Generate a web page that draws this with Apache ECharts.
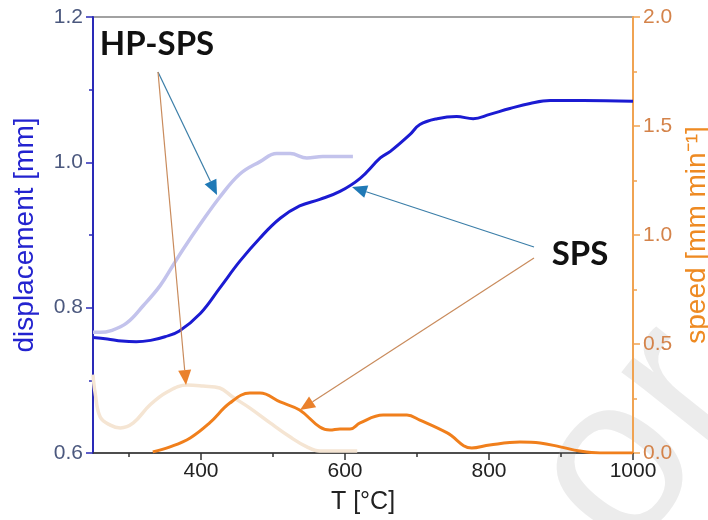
<!DOCTYPE html>
<html>
<head>
<meta charset="utf-8">
<script src="https://cdn.jsdelivr.net/npm/echarts@6/dist/echarts.min.js"></script>
<style>
  html, body { margin: 0; padding: 0; background: #fff; }
  #chart { width: 708px; height: 520px; }
</style>
</head>
<body>
<div id="chart"></div>
<script>
// SPS displacement (blue, solid)
const spsDispT = [250, 270, 290, 310, 330, 350, 370, 399, 426, 454, 482, 510, 537, 565, 593, 621, 649, 663, 690, 704, 728, 755, 778, 801, 829, 857, 885, 931, 1000];
const spsDispV = [0.759, 0.757, 0.754, 0.753, 0.755, 0.760, 0.768, 0.792, 0.827, 0.864, 0.896, 0.923, 0.940, 0.949, 0.960, 0.978, 1.006, 1.015, 1.038, 1.052, 1.060, 1.063, 1.060, 1.066, 1.074, 1.081, 1.085, 1.085, 1.084];

// HP-SPS displacement (light lavender)
const hpDispT = [250, 260, 274, 297, 320, 343, 361, 375, 399, 426, 454, 482, 505, 524, 547, 569, 611];
const hpDispV = [0.766, 0.766, 0.768, 0.779, 0.803, 0.830, 0.858, 0.880, 0.915, 0.952, 0.984, 1.001, 1.012, 1.012, 1.006, 1.008, 1.008];

// SPS speed (orange)
const spsSpeedT = [333, 357, 385, 412, 440, 468, 482, 510, 537, 565, 579, 593, 607, 621, 653, 686, 704, 742, 776, 801, 843, 871, 899, 926, 954, 1000];
const spsSpeedV = [0.005, 0.028, 0.069, 0.138, 0.229, 0.275, 0.275, 0.234, 0.197, 0.119, 0.105, 0.110, 0.110, 0.138, 0.174, 0.174, 0.151, 0.092, 0.023, 0.037, 0.050, 0.046, 0.028, 0.009, 0.0, 0.0];

// HP-SPS speed (light peach)
const hpSpeedT = [250, 253, 260, 274, 288, 306, 329, 353, 381, 403, 426, 444, 468, 496, 524, 547, 565, 589, 617];
const hpSpeedV = [0.36, 0.275, 0.165, 0.128, 0.115, 0.138, 0.22, 0.28, 0.312, 0.307, 0.298, 0.257, 0.206, 0.138, 0.073, 0.028, 0.009, 0.009, 0.009];

const xMajor = [400, 600, 800, 1000];
const xMinor = [300, 500, 700, 900];

function zip(a, b) {
  return a.map((t, i) => [t, b[i]]);
}

// arrow = line + filled head
function arrow(x1, y1, x2, y2, lineColor, headColor) {
  const ang = Math.atan2(y2 - y1, x2 - x1);
  const len = 15, half = 6.5;
  const bx = x2 - len * Math.cos(ang), by = y2 - len * Math.sin(ang);
  const px = -Math.sin(ang) * half, py = Math.cos(ang) * half;
  return [
    { type: 'line', shape: { x1: x1, y1: y1, x2: bx, y2: by }, style: { stroke: lineColor, lineWidth: 1.2 }, z: 10 },
    { type: 'polygon', shape: { points: [[x2, y2], [bx + px, by + py], [bx - px, by - py]] }, style: { fill: headColor }, z: 10 }
  ];
}

const blueLine = '#3b7ea8', blueHead = '#1f79b6';
const orLine = '#c98b5c', orHead = '#ea812c';

const chart = echarts.init(document.getElementById('chart'));

const option = {
  backgroundColor: '#fff',
  animation: false,
  grid: {
    left: 93, right: 75, top: 17, bottom: 67,
    outerBoundsMode: 'none',
    show: true, borderColor: '#444', borderWidth: 1.2
  },
  xAxis: [
    {
      type: 'value', min: 250, max: 1000,
      name: 'T [°C]', nameLocation: 'middle', nameGap: 37,
      nameTextStyle: { fontFamily: 'Liberation Sans', fontSize: 25, color: '#222' },
      axisLine: { lineStyle: { color: '#333', width: 1.5 } },
      axisTick: { customValues: xMajor, length: 7, lineStyle: { color: '#333', width: 1.5 } },
      axisLabel: { customValues: xMajor, fontFamily: 'Liberation Sans', fontSize: 21, color: '#222', margin: 8,
        formatter: v => String(v) },
      splitLine: { show: false }
    },
    {
      type: 'value', min: 250, max: 1000, position: 'bottom',
      axisLine: { show: false },
      axisTick: { customValues: xMinor, length: 4, lineStyle: { color: '#333', width: 1.5 } },
      axisLabel: { show: false },
      splitLine: { show: false }
    }
  ],
  yAxis: [
    {
      type: 'value', min: 0.6, max: 1.2, interval: 0.2,
      name: 'displacement [mm]', nameLocation: 'middle', nameGap: 54, nameRotate: 90,
      nameTextStyle: { fontFamily: 'Liberation Sans', fontSize: 28, color: '#2323cf' },
      axisLine: { show: true, lineStyle: { color: '#2a2ab8', width: 2 } },
      axisTick: { show: true, length: 7, lineStyle: { color: '#2a2ab8', width: 1.5 } },
      minorTick: { show: true, splitNumber: 2, length: 4, lineStyle: { color: '#2a2ab8', width: 1.5 } },
      axisLabel: { fontFamily: 'Liberation Sans', fontSize: 21, color: '#4b587e', margin: 10,
        formatter: v => v.toFixed(1) },
      splitLine: { show: false }
    },
    {
      type: 'value', min: 0, max: 2, interval: 0.5, position: 'right',
      name: 'speed [mm min⁻¹]', nameLocation: 'middle', nameGap: 50, nameRotate: 90,
      nameTextStyle: { fontFamily: 'Liberation Sans', fontSize: 28, color: '#ee8a22' },
      axisLine: { show: true, lineStyle: { color: '#f0a352', width: 2 } },
      axisTick: { show: true, length: 7, lineStyle: { color: '#f0a352', width: 1.5 } },
      minorTick: { show: true, splitNumber: 2, length: 4, lineStyle: { color: '#f0a352', width: 1.5 } },
      axisLabel: { fontFamily: 'Liberation Sans', fontSize: 21, color: '#d4834a', margin: 10,
        formatter: v => v.toFixed(1) },
      splitLine: { show: false }
    }
  ],
  series: [
    {
      name: 'HP-SPS speed', type: 'line', yAxisIndex: 1, smooth: 0.4, showSymbol: false,
      data: zip(hpSpeedT, hpSpeedV),
      lineStyle: { color: '#f5e5d3', width: 3.5 }, z: 2
    },
    {
      name: 'HP-SPS displacement', type: 'line', yAxisIndex: 0, smooth: 0.4, showSymbol: false,
      data: zip(hpDispT, hpDispV),
      lineStyle: { color: '#c3c3ec', width: 3.5 }, z: 2
    },
    {
      name: 'SPS speed', type: 'line', yAxisIndex: 1, smooth: 0.4, showSymbol: false,
      data: zip(spsSpeedT, spsSpeedV),
      lineStyle: { color: '#f07f1c', width: 3 }, z: 3
    },
    {
      name: 'SPS displacement', type: 'line', yAxisIndex: 0, smooth: 0.4, showSymbol: false,
      data: zip(spsDispT, spsDispV),
      lineStyle: { color: '#1b1bd2', width: 3 }, z: 3
    }
  ],
  graphic: [
    {
      type: 'text', x: 668, y: 592, rotation: 0.9, z: 0, silent: true,
      style: { text: 'or', fontFamily: 'Liberation Sans', fontSize: 230, fill: '#ececec', textVerticalAlign: 'bottom' }
    },
    {
      type: 'text', x: 157, y: 44, z: 10,
      style: { text: 'HP-SPS', fontFamily: 'Lato', fontWeight: 'bold', fontSize: 33, fill: '#111', align: 'center', verticalAlign: 'middle' }
    },
    {
      type: 'text', x: 580, y: 254, z: 10,
      style: { text: 'SPS', fontFamily: 'Lato', fontWeight: 'bold', fontSize: 33, fill: '#111', align: 'center', verticalAlign: 'middle' }
    }
  ]
    .concat(arrow(158, 72, 217, 195, blueLine, blueHead))
    .concat(arrow(158, 72, 186, 385, orLine, orHead))
    .concat(arrow(534, 247, 352, 187, blueLine, blueHead))
    .concat(arrow(534, 258, 300, 410, orLine, orHead))
};

chart.setOption(option);
</script>
</body>
</html>
